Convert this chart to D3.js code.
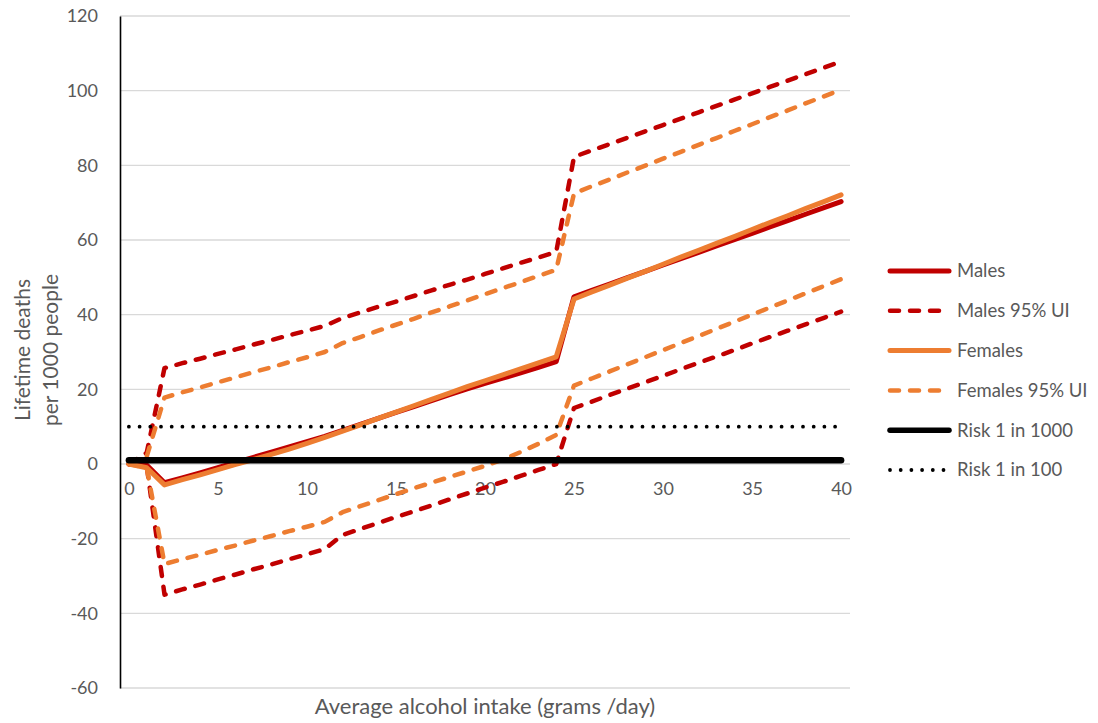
<!DOCTYPE html>
<html>
<head>
<meta charset="utf-8">
<script src="https://cdn.jsdelivr.net/npm/d3@7"></script>
<style>
  html, body { margin: 0; padding: 0; background: #fff; }
  svg { display: block; font-family: Lato, "Open Sans", sans-serif; }
</style>
</head>
<body>
<svg id="chart" width="1098" height="723"></svg>
<script>
// Average alcohol intake, grams per day (category axis)
const intake = d3.range(0, 41);

// Lifetime deaths per 1000 people
const males = [0, -0.3, -5.0, -3.7, -2.4, -1.0, 0.4, 1.8, 3.2, 4.6, 6.0, 7.4, 9.0, 10.6, 12.2, 13.8, 15.4, 17.0, 18.6, 20.1, 21.6, 23.0, 24.4, 25.9, 27.4,
  44.8, 46.5, 48.2, 49.9, 51.6, 53.3, 55.0, 56.7, 58.4, 60.1, 61.8, 63.5, 65.2, 66.9, 68.6, 70.3];
const malesUpper = [0, 3, 25.7, 27.0, 28.2, 29.5, 30.7, 32.0, 33.2, 34.5, 35.7, 37.0, 39.1, 40.6, 42.1, 43.5, 45.0, 46.5, 48.0, 49.4, 50.9, 52.4, 53.9, 55.3, 56.8,
  82.3, 84.0, 85.7, 87.4, 89.1, 90.8, 92.5, 94.2, 95.9, 97.6, 99.3, 101.0, 102.7, 104.4, 106.1, 107.8];
const malesLower = [0, -0.5, -35.0, -33.6, -32.3, -30.9, -29.6, -28.2, -26.9, -25.5, -24.2, -22.8, -19.0, -17.4, -15.8, -14.2, -12.7, -11.1, -9.5, -7.9, -6.3, -4.8, -3.2, -1.6, 0.0,
  15.0, 16.7, 18.5, 20.2, 21.9, 23.6, 25.4, 27.1, 28.8, 30.5, 32.3, 34.0, 35.7, 37.4, 39.1, 40.8];
const females = [0, -1.0, -5.6, -4.2, -2.9, -1.5, -0.1, 1.2, 2.6, 4.0, 5.5, 7.1, 8.8, 10.5, 12.2, 13.9, 15.6, 17.3, 19.0, 20.7, 22.3, 23.9, 25.5, 27.1, 28.7,
  44.2, 46.1, 47.9, 49.8, 51.6, 53.5, 55.4, 57.2, 59.1, 60.9, 62.8, 64.7, 66.5, 68.4, 70.2, 72.1];
const femalesUpper = [0, 2, 17.8, 19.2, 20.5, 21.9, 23.2, 24.6, 25.9, 27.3, 28.6, 30.0, 32.4, 34.0, 35.7, 37.3, 38.9, 40.6, 42.2, 43.8, 45.5, 47.1, 48.7, 50.4, 52.0,
  72.5, 74.4, 76.2, 78.1, 79.9, 81.8, 83.6, 85.5, 87.3, 89.2, 91.0, 92.9, 94.7, 96.6, 98.4, 100.3];
const femalesLower = [0, -1, -26.8, -25.5, -24.3, -23.0, -21.8, -20.5, -19.3, -18.0, -16.8, -15.5, -12.9, -11.3, -9.7, -8.1, -6.5, -5.0, -3.5, -2.0, -0.5, 1.2, 3.2, 5.4, 7.8,
  21.0, 22.9, 24.8, 26.7, 28.6, 30.5, 32.4, 34.3, 36.2, 38.1, 40.0, 41.9, 43.8, 45.7, 47.6, 49.5];
const risk1in1000 = intake.map(() => 1);
const risk1in100 = intake.map(() => 10);

const yTicks = [-60, -40, -20, 0, 20, 40, 60, 80, 100, 120];
const xTickLabels = [0, 5, 10, 15, 20, 25, 30, 35, 40];

const C_MALE = "#C00000", C_FEMALE = "#ED7D31", C_TEXT = "#595959";

const svg = d3.select("#chart");
const plotLeft = 120, plotRight = 850, plotTop = 16, plotBottom = 688;

const x = d3.scalePoint().domain(intake).range([plotLeft, plotRight]).padding(0.5);
const y = d3.scaleLinear().domain([-60, 120]).range([plotBottom, plotTop]);

// horizontal gridlines
svg.append("g").selectAll("line").data(yTicks).join("line")
  .attr("x1", plotLeft).attr("x2", plotRight)
  .attr("y1", d => y(d)).attr("y2", d => y(d))
  .attr("stroke", "#d9d9d9").attr("stroke-width", 1.3);

// value axis (plain hyphen for negatives)
const yAxis = svg.append("g").attr("transform", `translate(${plotLeft},0)`)
  .call(d3.axisLeft(y).tickValues(yTicks).tickFormat(d => String(d)).tickSize(0).tickPadding(22));
yAxis.select(".domain").attr("stroke", "#000").attr("stroke-width", 1.6);
yAxis.selectAll("text").attr("fill", C_TEXT).style("font-size", "18px")
  .style("font-family", "Lato, sans-serif");

// category axis crossing at zero; labels every 5 grams
const xAxis = svg.append("g").attr("transform", `translate(0,${y(0)})`)
  .call(d3.axisBottom(x).tickValues(xTickLabels).tickFormat(d => String(d)).tickSize(0).tickPadding(18));
xAxis.select(".domain").remove();
xAxis.selectAll("text").attr("fill", C_TEXT).style("font-size", "18px")
  .style("font-family", "Lato, sans-serif");

const line = d3.line().x((d, i) => x(intake[i])).y(d => y(d));

const series = [
  { values: malesUpper, color: C_MALE, width: 4.5, dash: "9,11" },
  { values: malesLower, color: C_MALE, width: 4.5, dash: "9,11" },
  { values: males, color: C_MALE, width: 5, dash: null },
  { values: femalesUpper, color: C_FEMALE, width: 4.5, dash: "9,11" },
  { values: femalesLower, color: C_FEMALE, width: 4.5, dash: "9,11" },
  { values: females, color: C_FEMALE, width: 5, dash: null },
  { values: risk1in1000, color: "#000", width: 6.5, dash: null },
  { values: risk1in100, color: "#000", width: 3.8, dash: "0,10.7" }
];

svg.append("g").selectAll("path").data(series).join("path")
  .attr("d", d => line(d.values))
  .attr("fill", "none")
  .attr("stroke", d => d.color)
  .attr("stroke-width", d => d.width)
  .attr("stroke-dasharray", d => d.dash)
  .attr("stroke-linecap", "round")
  .attr("stroke-linejoin", "round");

// axis titles
svg.append("text")
  .attr("x", (plotLeft + plotRight) / 2).attr("y", 714)
  .attr("text-anchor", "middle").attr("fill", C_TEXT)
  .style("font-size", "22px").text("Average alcohol intake (grams /day)");

const yTitle = svg.append("text")
  .attr("transform", `translate(0,350) rotate(-90)`)
  .attr("text-anchor", "middle").attr("fill", C_TEXT)
  .style("font-size", "21px");
yTitle.append("tspan").attr("x", 0).attr("y", 30).text("Lifetime deaths");
yTitle.append("tspan").attr("x", 0).attr("y", 58).text("per 1000 people");

// legend
const legendItems = [
  { label: "Males", color: C_MALE, width: 5, dash: null },
  { label: "Males 95% UI", color: C_MALE, width: 4.5, dash: "9,11" },
  { label: "Females", color: C_FEMALE, width: 5, dash: null },
  { label: "Females 95% UI", color: C_FEMALE, width: 4.5, dash: "9,11" },
  { label: "Risk 1 in 1000", color: "#000", width: 5.5, dash: null },
  { label: "Risk 1 in 100", color: "#000", width: 3.8, dash: "0,10.7" }
];
const legend = svg.append("g").selectAll("g").data(legendItems).join("g")
  .attr("transform", (d, i) => `translate(0,${271 + i * 39.8})`);
legend.append("line")
  .attr("x1", 890).attr("x2", 949).attr("y1", 0).attr("y2", 0)
  .attr("stroke", d => d.color).attr("stroke-width", d => d.width)
  .attr("stroke-dasharray", d => d.dash).attr("stroke-linecap", "round");
legend.append("text")
  .attr("x", 957).attr("y", 0).attr("dy", "0.35em")
  .attr("fill", C_TEXT).style("font-size", "18.5px")
  .text(d => d.label);
</script>
</body>
</html>
